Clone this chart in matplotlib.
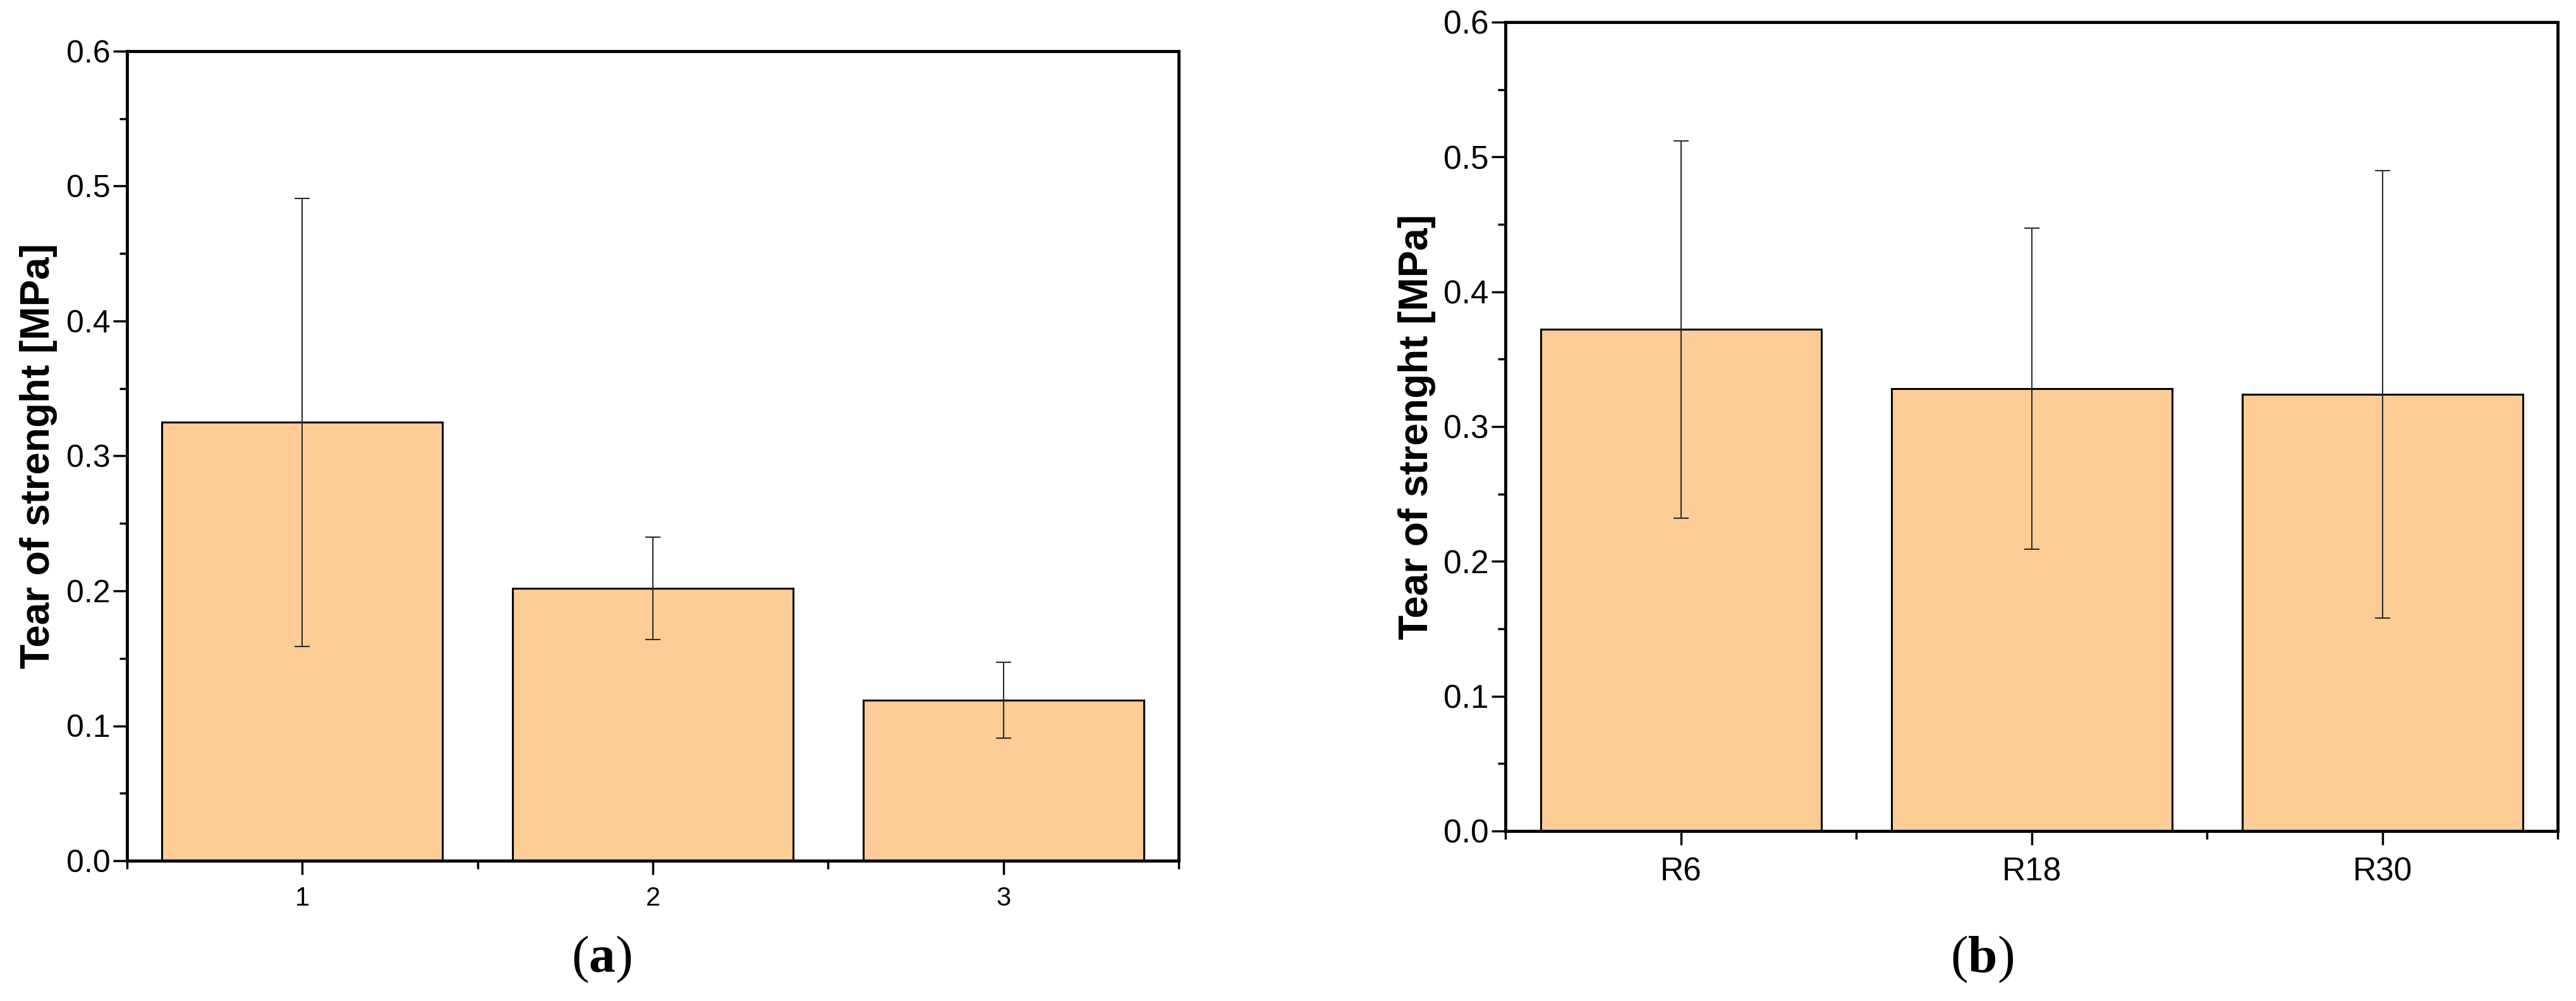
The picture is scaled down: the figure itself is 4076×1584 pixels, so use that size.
import numpy as np
import matplotlib
matplotlib.use("Agg")
import matplotlib.pyplot as plt
from matplotlib.ticker import MultipleLocator, FixedLocator, FormatStrFormatter

# ---- data ----
cats_a = ["1", "2", "3"]
vals_a = [0.325, 0.202, 0.119]
err_a = [0.166, 0.038, 0.028]

cats_b = ["R6", "R18", "R30"]
vals_b = [0.372, 0.328, 0.324]
err_b = [0.140, 0.119, 0.166]

ylabel = "Tear of strenght [MPa]"
panel_tags = ["a", "b"]

plt.rcParams["font.family"] = ["Liberation Sans", "DejaVu Sans"]
plt.rcParams["mathtext.fontset"] = "custom"
plt.rcParams["mathtext.rm"] = "Liberation Serif"
plt.rcParams["mathtext.bf"] = "Liberation Serif:bold"

W, H = 4076, 1584
fig = plt.figure(figsize=(W / 100, H / 100), dpi=100)
fig.patch.set_facecolor("white")

axa = fig.add_axes([201 / W, 1 - 1362 / H, 1664 / W, 1281 / H])
axb = fig.add_axes([2382 / W, 1 - 1315 / H, 1665 / W, 1280 / H])

BAR = "#FDCC97"


def draw(ax, cats, vals, errs, xfs, yfs):
    x = np.arange(1, len(cats) + 1)
    ax.bar(x, vals, width=0.8, color=BAR, edgecolor="black", linewidth=2.2, zorder=2)
    ax.errorbar(x, vals, yerr=errs, fmt="none", ecolor="#2b2b2b",
                elinewidth=1.5, capsize=8.6, capthick=1.5, zorder=3)
    ax.set_xlim(0.5, len(cats) + 0.5)
    ax.set_ylim(0, 0.6)
    ax.set_xticks(x)
    ax.set_xticklabels(cats)
    ax.xaxis.set_minor_locator(FixedLocator(np.arange(0.5, len(cats) + 1, 1.0)))
    ax.yaxis.set_major_locator(MultipleLocator(0.1))
    ax.yaxis.set_minor_locator(MultipleLocator(0.05))
    ax.yaxis.set_major_formatter(FormatStrFormatter("%.1f"))
    ax.tick_params(axis="both", which="major", direction="out", length=16, width=2.5,
                   top=False, right=False)
    ax.tick_params(axis="both", which="minor", direction="out", length=9, width=2.5,
                   top=False, right=False)
    ax.tick_params(axis="y", which="major", labelsize=yfs, pad=3)
    ax.tick_params(axis="x", which="major", labelsize=xfs, pad=13)
    for s in ax.spines.values():
        s.set_linewidth(3.5)
    ax.set_ylabel(ylabel, fontsize=46, fontweight="bold")
    ax.yaxis.set_label_coords(-0.066, 0.5)


draw(axa, cats_a, vals_a, err_a, 30, 36)
draw(axb, cats_b, vals_b, err_b, 37, 37)

for tag, xc in zip(panel_tags, [952, 3136]):
    fig.text(xc / W, 1 - 1518 / H, "(" + r"$\mathbf{" + tag + "}$" + ")",
             fontsize=60, family="Liberation Serif", ha="center", va="center")

fig.savefig("out.png", dpi=100)
